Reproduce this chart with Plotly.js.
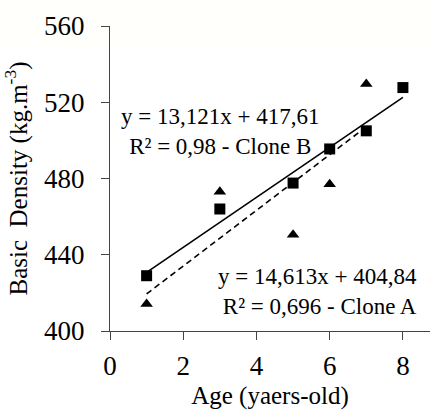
<!DOCTYPE html>
<html>
<head>
<meta charset="utf-8">
<script src="https://cdn.plot.ly/plotly-3.0.1.min.js"></script>
<style>html,body{margin:0;padding:0;background:#fff}#chart{width:433px;height:412px}
#probe{position:absolute;top:0;left:0;font:9px monospace;width:433px;word-wrap:break-word;color:rgba(255,255,255,0.01);background:rgba(255,255,0,0.01);pointer-events:none}</style>
</head>
<body>
<div id="chart"></div>
<div id="probe"></div>
<script>
// Data
const ageB = [1, 3, 5, 6, 7, 8];
const densityB = [429, 464, 477.6, 495.5, 505, 527.7];
const ageA = [1, 3, 5, 6, 7];
const densityA = [414.2, 473, 450.5, 477, 529.6];
// Trendline coefficients as printed on the chart
const trendB = {slope: 13.121, intercept: 417.61};
const trendA = {slope: 14.613, intercept: 404.84};
const labelB = ["y = 13,121x + 417,61", "R² = 0,98 - Clone B"];
const labelA = ["y = 14,613x + 404,84", "R² = 0,696 - Clone A"];
const xTicks = [0, 2, 4, 6, 8];
const yTicks = [400, 440, 480, 520, 560];

const fit = (t, xs) => xs.map(x => t.slope * x + t.intercept);
const xsB = [Math.min(...ageB), Math.max(...ageB)];
const xsA = [Math.min(...ageA), Math.max(...ageA)];

const data = [
  {x: xsB, y: fit(trendB, xsB), mode: 'lines', line: {color: '#000', width: 1.6}, hoverinfo: 'skip'},
  {x: xsA, y: fit(trendA, xsA), mode: 'lines', line: {color: '#000', width: 1.6, dash: '6px,4px'}, hoverinfo: 'skip'},
  {x: ageB, y: densityB, mode: 'markers', marker: {symbol: 'square', size: 11, color: '#000'}},
  {x: ageA, y: densityA, mode: 'markers', marker: {symbol: 'triangle-up', size: 11, color: '#000'}}
];

const font = 'Liberation Serif';
const layout = {
  width: 433, height: 412,
  margin: {l: 110, r: 3, t: 26, b: 81},
  paper_bgcolor: '#fff', plot_bgcolor: '#fff',
  showlegend: false,
  font: {family: font, size: 27, color: '#000'},
  xaxis: {
    range: [0, 8.74], tickvals: xTicks, ticktext: xTicks.map(String),
    showgrid: false, zeroline: false, showline: true, linecolor: '#444', linewidth: 1,
    ticks: 'outside', ticklen: 8, tickcolor: '#444', ticklabelstandoff: 3,
    tickfont: {size: 27, family: font, color: '#000'},
    title: {text: 'Age (yaers-old)', font: {size: 25, family: font, color: '#000'}, standoff: 6}
  },
  yaxis: {
    range: [400, 560], tickvals: yTicks, ticktext: yTicks.map(String),
    showgrid: false, zeroline: false, showline: true, linecolor: '#444', linewidth: 1,
    ticks: 'outside', ticklen: 8, tickcolor: '#444', ticklabelstandoff: 11,
    tickfont: {size: 27, family: font, color: '#000'},
    title: {text: 'Basic  Density (kg.m<sup>-3</sup>)', font: {size: 25, family: font, color: '#000'}, standoff: 12}
  },
  annotations: [
    {x: 0.25, y: 504.5, xref: 'x', yref: 'y', xanchor: 'left', yanchor: 'middle', align: 'center',
     text: labelB.join('<br>'), showarrow: false, font: {size: 23, family: font, color: '#000'}},
    {x: 8.43, y: 420.6, xref: 'x', yref: 'y', xanchor: 'right', yanchor: 'middle', align: 'right',
     text: labelA.join('<br>'), showarrow: false, font: {size: 23, family: font, color: '#000'}}
  ]
};

Plotly.newPlot('chart', data, layout, {displayModeBar: false, staticPlot: true}).then(gd => {
  const t = gd.querySelector('.ytick text');
  const ti = gd.querySelector('.ytitle');
  document.getElementById('probe').textContent = 'tick ' + (t && t.getAttribute('style')) + ' title ' + (ti && ti.getAttribute('style'));
});
</script>
</body>
</html>
